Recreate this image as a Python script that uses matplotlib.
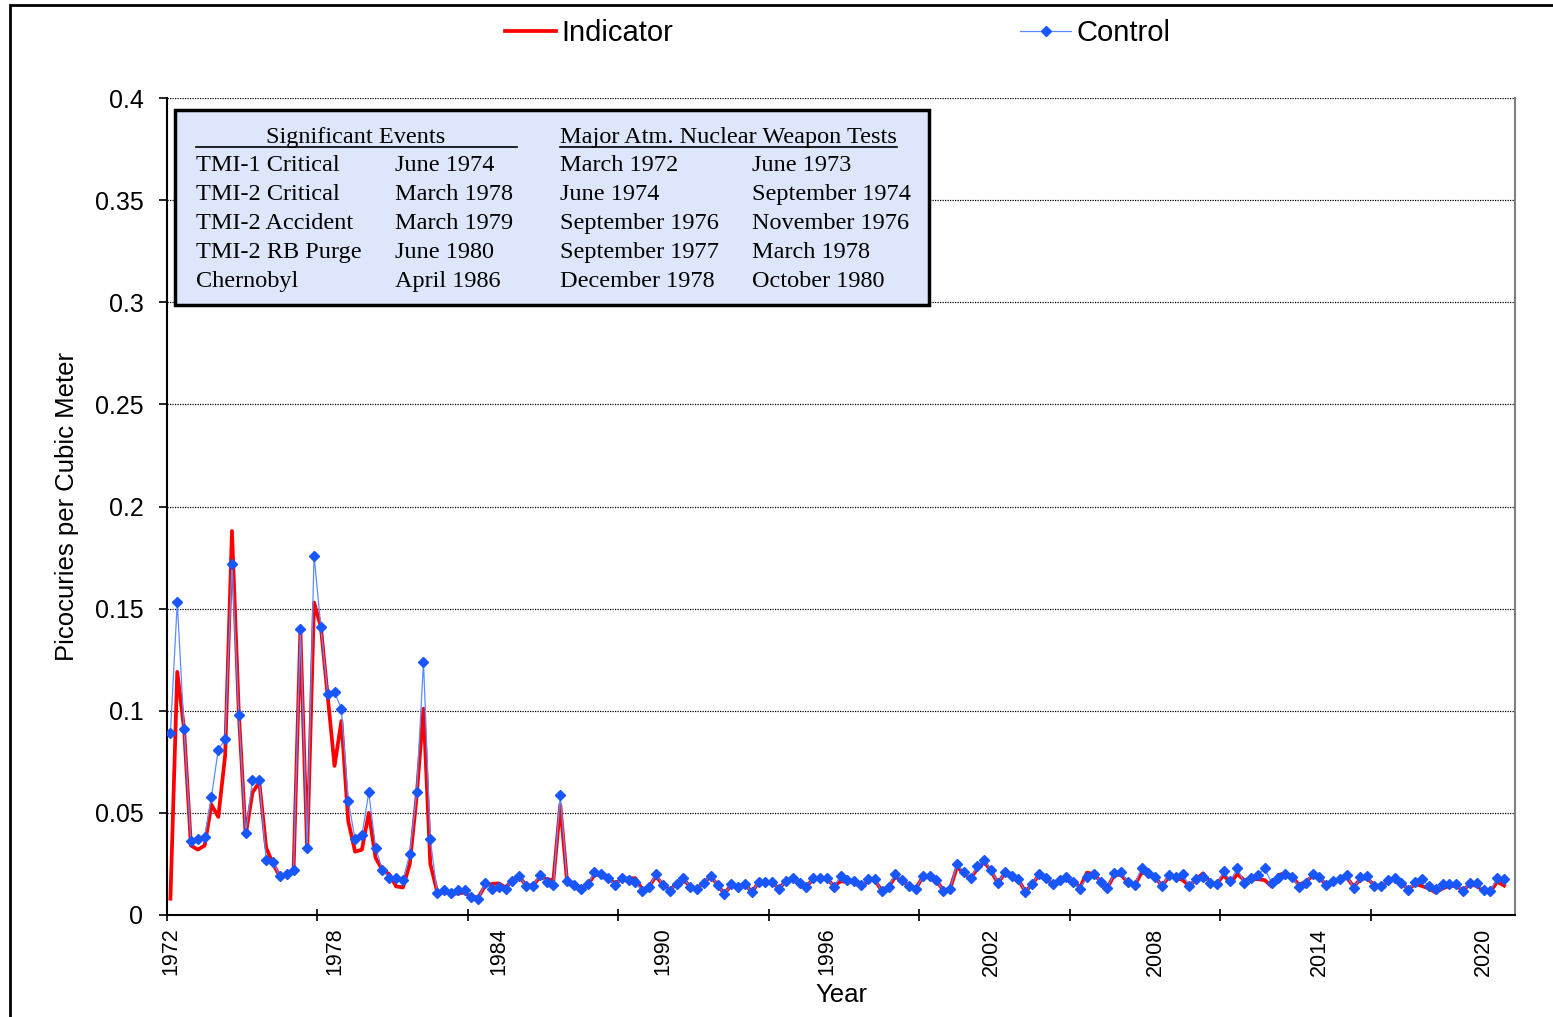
import numpy as np
import matplotlib
matplotlib.use("Agg")
import matplotlib.pyplot as plt
from matplotlib.lines import Line2D
from matplotlib.patches import Rectangle

# ---------------- data (quarterly, 1972 Q1 .. 2020 Q4) ----------------
indicator = [
    0.008, 0.119, 0.091, 0.034, 0.032, 0.034, 0.054, 0.048, 0.078, 0.188,
    0.099, 0.039, 0.060, 0.065, 0.033, 0.025, 0.019, 0.019, 0.021, 0.1395,
    0.0315, 0.153, 0.141, 0.107, 0.073, 0.095, 0.046, 0.031, 0.032, 0.050,
    0.028, 0.022, 0.020, 0.014, 0.0135, 0.025, 0.058, 0.101, 0.025, 0.0114,
    0.011, 0.0105, 0.0105, 0.011, 0.009, 0.0086, 0.0142, 0.0152, 0.0155, 0.0135,
    0.0168, 0.0188, 0.0145, 0.0145, 0.0184, 0.0175, 0.0171, 0.054, 0.0163, 0.0147,
    0.0123, 0.0147, 0.0196, 0.0196, 0.018, 0.0155, 0.0175, 0.018, 0.018, 0.0123,
    0.0139, 0.0191, 0.0147, 0.0123, 0.0152, 0.0175, 0.0139, 0.013, 0.0158, 0.019,
    0.0147, 0.0103, 0.0148, 0.0139, 0.015, 0.0113, 0.0158, 0.0163, 0.016, 0.0128,
    0.0168, 0.0178, 0.0158, 0.014, 0.0176, 0.0178, 0.0178, 0.0142, 0.0165, 0.0162,
    0.016, 0.0135, 0.0172, 0.017, 0.012, 0.0137, 0.0188, 0.0168, 0.0142, 0.013,
    0.0185, 0.0185, 0.0168, 0.0122, 0.0127, 0.0235, 0.0205, 0.0178, 0.0228, 0.026,
    0.0215, 0.0155, 0.0205, 0.019, 0.0172, 0.0114, 0.015, 0.0196, 0.018, 0.015,
    0.017, 0.0171, 0.0165, 0.0135, 0.0207, 0.0201, 0.0165, 0.0133, 0.0196, 0.0196,
    0.016, 0.0147, 0.0207, 0.0204, 0.0184, 0.0142, 0.0188, 0.0184, 0.0171, 0.0142,
    0.0176, 0.0204, 0.016, 0.0152, 0.0196, 0.0155, 0.0201, 0.0171, 0.0176, 0.0175,
    0.0171, 0.014, 0.0196, 0.0204, 0.0188, 0.0147, 0.0163, 0.0191, 0.0184, 0.0147,
    0.0163, 0.0168, 0.0184, 0.0139, 0.0175, 0.018, 0.0147, 0.0142, 0.0163, 0.018,
    0.0155, 0.0126, 0.0152, 0.0142, 0.013, 0.011, 0.013, 0.0142, 0.0142, 0.0122,
    0.015, 0.0142, 0.0119, 0.0114, 0.0163, 0.0144,
]
control = [
    0.089, 0.153, 0.091, 0.036, 0.037, 0.038, 0.058, 0.081, 0.086, 0.172,
    0.098, 0.040, 0.066, 0.066, 0.027, 0.026, 0.019, 0.020, 0.022, 0.140,
    0.033, 0.176, 0.141, 0.108, 0.109, 0.101, 0.056, 0.037, 0.039, 0.060,
    0.033, 0.022, 0.018, 0.018, 0.017, 0.030, 0.060, 0.124, 0.037, 0.011,
    0.012, 0.011, 0.012, 0.012, 0.009, 0.008, 0.0155, 0.0126, 0.0139, 0.0129,
    0.0168, 0.0191, 0.0142, 0.0142, 0.0196, 0.0163, 0.0149, 0.0589, 0.0168, 0.0149,
    0.0126, 0.015, 0.0209, 0.0199, 0.0181, 0.0147, 0.018, 0.017, 0.016, 0.0118,
    0.0137, 0.0202, 0.0145, 0.0118, 0.0152, 0.018, 0.0139, 0.0128, 0.0158, 0.0193,
    0.0147, 0.0101, 0.015, 0.0139, 0.0152, 0.0111, 0.016, 0.0163, 0.016, 0.0127,
    0.0168, 0.018, 0.0158, 0.0139, 0.018, 0.018, 0.018, 0.0139, 0.0191, 0.0171,
    0.0168, 0.0147, 0.0176, 0.0175, 0.0118, 0.0139, 0.0201, 0.0171, 0.0142, 0.0127,
    0.0191, 0.0191, 0.0171, 0.0119, 0.0127, 0.025, 0.0209, 0.018, 0.024, 0.0269,
    0.022, 0.0158, 0.0209, 0.0191, 0.0175, 0.0114, 0.015, 0.0201, 0.018, 0.015,
    0.0171, 0.0184, 0.016, 0.0127, 0.0188, 0.0201, 0.0163, 0.0131, 0.0207, 0.0212,
    0.016, 0.0147, 0.0232, 0.0204, 0.0184, 0.0142, 0.0196, 0.0184, 0.0199, 0.0142,
    0.0176, 0.0188, 0.0158, 0.0152, 0.0215, 0.0168, 0.0228, 0.0158, 0.0183, 0.0197,
    0.0228, 0.0158, 0.0183, 0.0199, 0.0188, 0.0135, 0.0158, 0.0201, 0.0188, 0.0147,
    0.0168, 0.0175, 0.0196, 0.0131, 0.0184, 0.0191, 0.0142, 0.0142, 0.0171, 0.0183,
    0.0158, 0.0122, 0.0163, 0.0175, 0.0142, 0.0126, 0.0152, 0.0152, 0.0152, 0.0118,
    0.0158, 0.0158, 0.0122, 0.0119, 0.018, 0.0175,
]
year_labels = ["1972", "1978", "1984", "1990", "1996", "2002", "2008", "2014", "2020"]
y_tick_values = [0, 0.05, 0.1, 0.15, 0.2, 0.25, 0.3, 0.35, 0.4]
y_tick_labels = ["0", "0.05", "0.1", "0.15", "0.2", "0.25", "0.3", "0.35", "0.4"]

events = [("TMI-1 Critical", "June 1974"), ("TMI-2 Critical", "March 1978"),
          ("TMI-2 Accident", "March 1979"), ("TMI-2 RB Purge", "June 1980"),
          ("Chernobyl", "April 1986")]
tests_a = ["March 1972", "June 1974", "September 1976", "September 1977", "December 1978"]
tests_b = ["June 1973", "September 1974", "November 1976", "March 1978", "October 1980"]

# ---------------- figure ----------------
W, H = 1553, 1017
fig = plt.figure(figsize=(W / 100, H / 100), dpi=100)
plt.rcParams['font.family'] = ['Liberation Sans', 'DejaVu Sans']


def fx(x):
    return x / W


def fy(y):
    return 1 - y / H


ax_w = fx(1515) - fx(167)
ax_h = fy(98) - fy(915)
ax = fig.add_axes([fx(167), fy(915), ax_w, ax_h])

q = np.arange(len(control))
ax.plot(q, indicator, color='#ff0000', lw=2.7, zorder=3, solid_joinstyle='round')
ax.plot(q, control, color='#5b8cff', lw=0.9, marker='D', markersize=4.6,
        markerfacecolor='#1856ff', markeredgecolor='#1856ff', zorder=4)

ax.set_xlim(-0.5, 196.6)
ax.set_ylim(0, 0.4)

for v in y_tick_values[1:]:
    ax.axhline(v, color='black', lw=0.9, ls=(0, (1, 1)), zorder=1)

ax.set_yticks(y_tick_values)
ax.set_yticklabels(y_tick_labels, fontsize=18)
ax.tick_params(axis='y', direction='out', length=6, width=1.2, pad=11)

ax.set_xticks(np.arange(0, len(control), 24))
ax.set_xticklabels(year_labels, rotation=90, fontsize=15.5)
ax.tick_params(axis='x', which='major', length=0, pad=9)
ax.set_xticks(np.arange(-0.5, len(control), 22), minor=True)
ax.tick_params(axis='x', which='minor', direction='inout', length=8, width=1.2)

ax.spines['top'].set_visible(False)
ax.spines['right'].set_color('#808080')
ax.spines['right'].set_linewidth(1.5)
ax.spines['left'].set_linewidth(1.5)
ax.spines['bottom'].set_linewidth(1.5)

ax.set_xlabel("Year", fontsize=18.5)
ax.set_ylabel("Picocuries per Cubic Meter", fontsize=18.5)
ax.yaxis.set_label_coords((fx(79) - fx(167)) / ax_w, 0.5)
ax.xaxis.set_label_coords(0.5, (fy(983) - fy(915)) / ax_h)

# legend
h_ind = Line2D([], [], color='#ff0000', lw=2.7)
h_ctl = Line2D([], [], color='#5b8cff', lw=0.9, marker='D', markersize=4.6,
               markerfacecolor='#1856ff', markeredgecolor='#1856ff')
for h, lab, x0 in [(h_ind, "Indicator", 505), (h_ctl, "Control", 1020)]:
    fig.legend(handles=[h], labels=[lab], loc='center left',
               bbox_to_anchor=(fx(x0), fy(33)), frameon=False, fontsize=21,
               borderpad=0, borderaxespad=0, handlelength=1.75, handletextpad=0.2)

# outer chart border
fig.add_artist(Rectangle((fx(10), -0.05), 1.2, fy(5) + 0.05, transform=fig.transFigure,
                         fill=False, ec='black', lw=2))

# events box
fig.add_artist(Rectangle((fx(175), fy(305)), fx(929) - fx(175), fy(110) - fy(305),
                         transform=fig.transFigure, fc='#dde6fb', ec='black', lw=2.5, zorder=5))
serif = ['Liberation Serif', 'DejaVu Serif']
fs = 17.5
fig.text(fx(356), fy(143), "Significant Events", family=serif, fontsize=fs,
         ha='center', va='baseline', zorder=6)
fig.add_artist(Line2D([fx(196), fx(517)], [fy(147), fy(147)], transform=fig.transFigure,
                      color='black', lw=1.2, zorder=6))
fig.text(fx(560), fy(143), "Major Atm. Nuclear Weapon Tests", family=serif, fontsize=fs,
         ha='left', va='baseline', zorder=6)
fig.add_artist(Line2D([fx(560), fx(897)], [fy(147), fy(147)], transform=fig.transFigure,
                      color='black', lw=1.2, zorder=6))
for k in range(5):
    yb = fy(171 + 29 * k)
    fig.text(fx(196), yb, events[k][0], family=serif, fontsize=fs, va='baseline', zorder=6)
    fig.text(fx(395), yb, events[k][1], family=serif, fontsize=fs, va='baseline', zorder=6)
    fig.text(fx(560), yb, tests_a[k], family=serif, fontsize=fs, va='baseline', zorder=6)
    fig.text(fx(752), yb, tests_b[k], family=serif, fontsize=fs, va='baseline', zorder=6)

fig.savefig("out.png", dpi=100)
